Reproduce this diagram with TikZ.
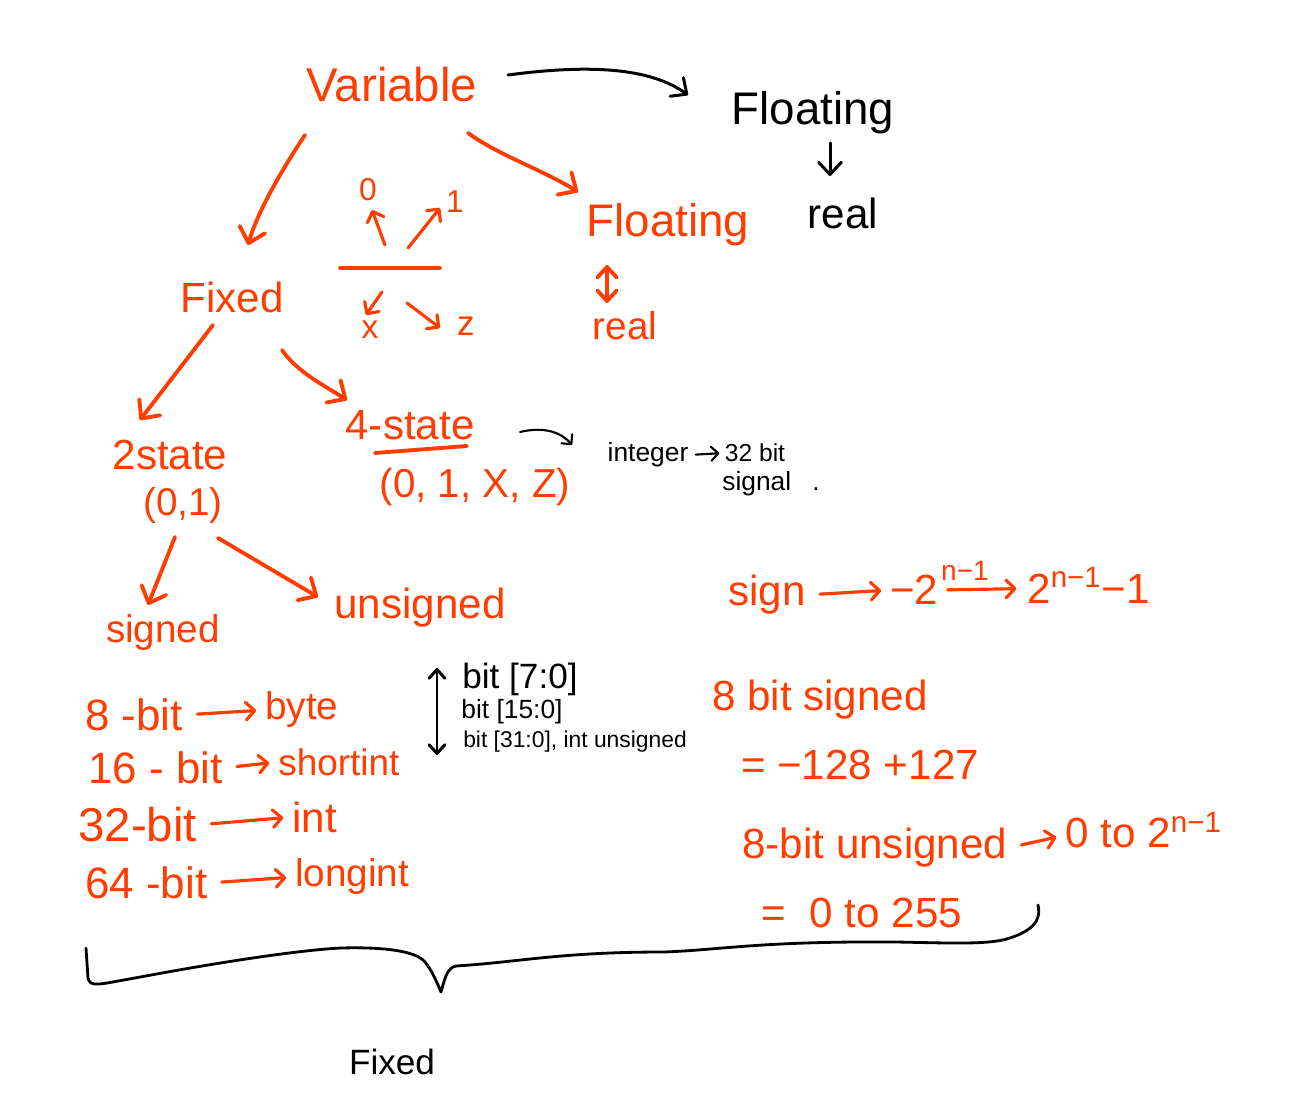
\documentclass[tikz,border=0pt]{standalone}
\usepackage{fontspec}
\setmainfont{Liberation Sans}
\usetikzlibrary{arrows.meta}
\definecolor{hred}{HTML}{FF3D00}
\begin{document}
\begin{tikzpicture}[x=0.02cm,y=-0.02cm,
  fs/.style={font=\fontsize{#1}{#1}\selectfont},
  rt/.style={text=hred, inner sep=0pt},
  bt/.style={text=black, inner sep=0pt},
  rline/.style={draw=hred, line width=2.2pt, line cap=round, line join=round},
  rarr/.style={rline, -{Straight Barb[length=8pt,width=15pt,round]}},
  rarrs/.style={draw=hred, line width=1.8pt, line cap=round, line join=round, -{Straight Barb[length=5pt,width=10pt,round]}},
  rdbl/.style={rline, {Straight Barb[length=6pt,width=11pt,round]}-{Straight Barb[length=6pt,width=11pt,round]}},
  bline/.style={draw=black, line width=1.7pt, line cap=round, line join=round},
  barr/.style={bline, -{Straight Barb[length=7pt,width=13pt,round]}},
  barrs/.style={draw=black, line width=1.2pt, line cap=round, line join=round, -{Straight Barb[length=4pt,width=8pt,round]}},
  bdbl/.style={bline, {Straight Barb[length=5pt,width=9pt,round]}-{Straight Barb[length=5pt,width=9pt,round]}},
  gap/.style={shorten <=8pt, shorten >=5pt}
]
\fill[white] (0,0) rectangle (1295,1097);
\useasboundingbox (0,0) rectangle (1295,1097);

% ---- top
\node[rt,fs=27] (var) at (392,85) {Variable};
\node[bt,fs=26] (floatK) at (813,113) {Floating};
\node[bt,fs=24] (realK) at (843,213) {real};
\node[rt,fs=26] (floatR) at (668,225) {Floating};
\node[rt,fs=22] (realR) at (625,326) {real};
\node[rt,fs=24] (fixed) at (232,297) {Fixed};

% mini diagram
\node[rt,fs=18] (s0) at (368,190) {0};
\node[rt,fs=18] (s1) at (455,202) {1};
\node[rt,fs=19] (sx) at (370,330) {x};
\node[rt,fs=20] (sz) at (466,326) {z};
\draw[rline, line width=2pt] ([shift={(-115,66)}]s1.center) -- ([shift={(70,-62)}]sx.center);

% ---- middle
\node[rt,fs=24] (st4) at (410,425) {4-state};
\node[rt,fs=23] (fourb) at (475,487) {(0, 1, X, Z)};
\node[rt,fs=24] (st2) at (170,455) {2state};
\node[rt,fs=22] (st2b) at (183,505) {(0,1)};
\node[bt,fs=15] (integ) at (648,455) {integer};
\node[bt,fs=14] (bit32) at (755,453) {32 bit};
\node[bt,fs=15] (signal) at (771,484) {signal\hspace{12pt}.};

\node[rt,fs=22] (signed) at (163,633) {signed};
\node[rt,fs=24] (unsigned) at (420,608) {unsigned};

\node[bt,fs=20] (bit7) at (520,679) {bit [7:0]};
\node[bt,fs=15] (bit15) at (512,712) {bit [15:0]};
\node[bt,fs=13] (bit31) at (575,742) {bit [31:0], int unsigned};

% ---- left list
\node[rt,fs=25,anchor=west] (b8) at (85,715) {8 -bit};
\node[rt,fs=22,anchor=west] (byte) at (265,710) {byte};
\node[rt,fs=25,anchor=west] (b16) at (88,768) {16 - bit};
\node[rt,fs=21,anchor=west] (shortint) at (278,762) {shortint};
\node[rt,fs=27,anchor=west] (b32) at (78,825) {32-bit};
\node[rt,fs=24,anchor=west] (int) at (292,817) {int};
\node[rt,fs=25,anchor=west] (b64) at (85,883) {64 -bit};
\node[rt,fs=22,anchor=west] (longint) at (295,877) {longint};

% ---- right
\node[rt,fs=24,anchor=west] (sign) at (728,595) {sign};
\node[rt,fs=24,anchor=west] (m2) at (890,590) {−2};
\node[rt,fs=16,anchor=south west] (m2s) at ([shift={(2,6)}]m2.north east) {n−1};
\node[rt,fs=24,anchor=west] (p2) at (1027,585) {2\textsuperscript{n−1}−1};
\node[rt,fs=24] (s8) at (820,700) {8 bit signed};
\node[rt,fs=24] (r128) at (860,765) {= −128  +127};
\node[rt,fs=24,anchor=west] (u8) at (742,848) {8-bit unsigned};
\node[rt,fs=24,anchor=west] (u0) at (1065,830) {0 to 2\textsuperscript{n−1}};
\node[rt,fs=24] (r255) at (862,913) {= \ 0 to 255};

\node[bt,fs=20] (fixedK) at (392,1062) {Fixed};

% ---- connectors
\draw[barr] ([shift={(116,-10)}]var.center) .. controls +(90,-12) and +(-35,-25) .. ([shift={(-125,-18)}]floatK.center);
\draw[barr] ([shift={(17,30)}]floatK.center) -- ([shift={(-13,-37)}]realK.center);
\draw[rarr] ([shift={(-87,50)}]var.center) .. controls +(-20,30) and +(10,-35) .. ([shift={(16,-52)}]fixed.center);
\draw[rarr] ([shift={(76,48)}]var.center) .. controls +(30,22) and +(-35,-22) .. ([shift={(-90,-33)}]floatR.center);
\draw[rdbl] ([shift={(-61,40)}]floatR.center) -- ([shift={(-18,-23)}]realR.center);

\draw[rarrs] ([shift={(17,55)}]s0.center) -- ([shift={(4,20)}]s0.center);
\draw[rarrs] ([shift={(-47,46)}]s1.center) -- ([shift={(-15,6)}]s1.center);
\draw[rarrs] ([shift={(12,-38)}]sx.center) -- ([shift={(-4,-15)}]sx.center);
\draw[rarrs] ([shift={(-59,-23)}]sz.center) -- ([shift={(-26,2)}]sz.center);

\draw[rarr] ([shift={(-19,28)}]fixed.center) -- ([shift={(-30,-35)}]st2.center);
\draw[rarr] ([shift={(50,53)}]fixed.center) .. controls +(15,22) and +(-22,-14) .. ([shift={(-63,-25)}]st4.center);
\draw[rline] ([shift={(-35,28)}]st4.center) -- ([shift={(57,21)}]st4.center);
\draw[barrs] ([shift={(110,7)}]st4.center) .. controls +(25,-6) and +(-10,-12) .. ([shift={(-76,-10)}]integ.center);
\draw[barrs, shorten <=4pt, shorten >=3pt] (integ.east) -- (bit32.west);

\draw[rarr] ([shift={(-8,32)}]st2b.center) -- ([shift={(-15,-28)}]signed.center);
\draw[rarr] ([shift={(35,33)}]st2b.center) -- ([shift={(-102,-11)}]unsigned.center);
\draw[bdbl] ([shift={(-83,-11)}]bit7.center) -- ([shift={(-138,13)}]bit31.center);

\draw[rarrs, gap] (b8.east) -- (byte.west);
\draw[rarrs, gap] (b16.east) -- (shortint.west);
\draw[rarrs, gap] (b32.east) -- (int.west);
\draw[rarrs, gap] (b64.east) -- (longint.west);

\draw[rarrs, gap] (sign.east) -- (m2.west);
\draw[rarrs, shorten <=5pt, shorten >=6pt] (m2.east) -- ([yshift=-2pt]p2.west);
\draw[rarrs, gap] (u8.east) -- ([yshift=-3pt]u0.west);

% brace
\draw[bline, line width=1.6pt] (86,948) -- (88,978) .. controls (90,988) and (100,984) .. (135,978)
  .. controls (220,962) and (300,950) .. (341,948)
  .. controls (380,947) and (415,950) .. (425,962)
  .. controls (433,972) and (438,985) .. (441,992)
  .. controls (445,978) and (447,968) .. (456,966)
  .. controls (520,962) and (560,952) .. (664,952)
  .. controls (720,950) and (760,941) .. (896,942)
  .. controls (950,943) and (990,945) .. (1010,938)
  .. controls (1040,928) and (1040,915) .. (1038,905);
\end{tikzpicture}
\end{document}
